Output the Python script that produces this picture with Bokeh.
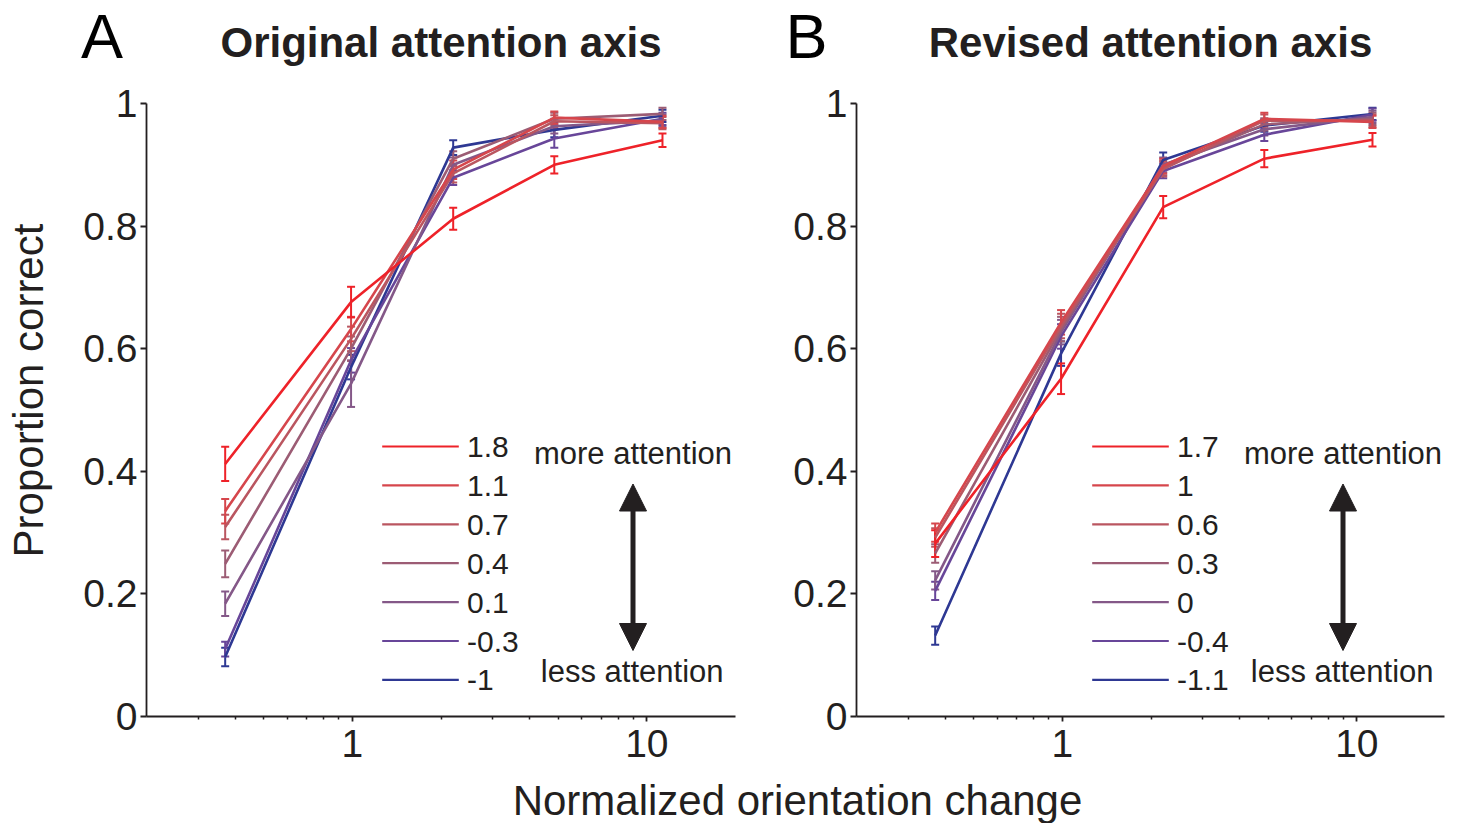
import math
from bokeh.plotting import figure
from bokeh.layouts import row, column
from bokeh.models import (Range1d, FixedTicker, Label, Arrow, NormalHead,
                          Whisker, TeeHead, ColumnDataSource)
from bokeh.embed import file_html
from bokeh.resources import INLINE

# ---------------- data ----------------
x_change = [0.37, 0.99, 2.2, 4.85, 11.3]

# Panel A : original attention axis
labels_a = ["1.8", "1.1", "0.7", "0.4", "0.1", "-0.3", "-1"]
a_18 = [0.412, 0.676, 0.812, 0.900, 0.940]
a_11 = [0.335, 0.632, 0.892, 0.977, 0.970]
a_07 = [0.309, 0.616, 0.886, 0.971, 0.968]
a_04 = [0.249, 0.600, 0.910, 0.975, 0.983]
a_01 = [0.184, 0.543, 0.900, 0.963, 0.972]
a_m03 = [0.110, 0.581, 0.879, 0.943, 0.975]
a_m1 = [0.097, 0.570, 0.928, 0.957, 0.980]
err_a_18 = [0.028, 0.025, 0.018, 0.014, 0.011]
err_a_11 = [0.020, 0.020, 0.015, 0.010, 0.010]
err_a_07 = [0.020, 0.020, 0.015, 0.010, 0.010]
err_a_04 = [0.022, 0.020, 0.012, 0.010, 0.010]
err_a_01 = [0.020, 0.038, 0.012, 0.012, 0.010]
err_a_m03 = [0.012, 0.020, 0.012, 0.015, 0.010]
err_a_m1 = [0.015, 0.020, 0.012, 0.012, 0.010]

# Panel B : revised attention axis
labels_b = ["1.7", "1", "0.6", "0.3", "0", "-0.4", "-1.1"]
b_17 = [0.282, 0.551, 0.831, 0.910, 0.941]
b_1 = [0.300, 0.643, 0.898, 0.975, 0.970]
b_06 = [0.292, 0.637, 0.893, 0.972, 0.972]
b_03 = [0.266, 0.632, 0.895, 0.966, 0.975]
b_0 = [0.222, 0.627, 0.900, 0.958, 0.978]
b_m04 = [0.205, 0.620, 0.890, 0.949, 0.982]
b_m11 = [0.132, 0.592, 0.908, 0.964, 0.983]
err_b_17 = [0.022, 0.025, 0.018, 0.014, 0.011]
err_b_1 = [0.015, 0.020, 0.012, 0.010, 0.010]
err_b_06 = [0.015, 0.020, 0.012, 0.010, 0.010]
err_b_03 = [0.015, 0.020, 0.012, 0.010, 0.010]
err_b_0 = [0.015, 0.020, 0.012, 0.010, 0.010]
err_b_m04 = [0.015, 0.020, 0.012, 0.010, 0.010]
err_b_m11 = [0.015, 0.020, 0.012, 0.010, 0.010]

series_colors = ["#ee2229", "#d6464c", "#ba5660", "#9c5c74", "#845888", "#684699", "#2e3893"]

y_ticks = [0, 0.2, 0.4, 0.6, 0.8, 1]
y_tick_labels = ["0", "0.2", "0.4", "0.6", "0.8", "1"]
x_major = [1, 10]
x_major_labels = ["1", "10"]
x_minor = [0.3, 0.4, 0.5, 0.6, 0.7, 0.8, 0.9, 2, 3, 4, 5, 6, 7, 8, 9]

title_a = "Original attention axis"
title_b = "Revised attention axis"
x_title = "Normalized orientation change"
y_title = "Proportion correct"

INK = "#231f20"
FONT = "Liberation Sans"

# ---------------- page geometry (page pixels) ----------------
TOP_H = 83            # strip with panel letters and titles
PANEL_TOP = TOP_H
FRAME_TOP, FRAME_BOTTOM = 103, 716
PANEL_BOTTOM = 775
BOTTOM_H = 48
YLAB_W = 60
DECADE_A = 589 / 2.0


def strip(width, height):
    """A bare figure whose frame is its whole canvas, in pixel units."""
    s = figure(width=width, height=height, x_range=Range1d(0, width),
               y_range=Range1d(0, height), output_backend="svg",
               toolbar_location=None, title=None,
               x_axis_location=None, y_axis_location=None,
               min_border_left=0, min_border_right=0,
               min_border_top=0, min_border_bottom=0)
    s.outline_line_color = None
    s.xgrid.visible = False
    s.ygrid.visible = False
    return s


def make_panel(series, errs, labels, page_left, width, frame_left, frame_width):
    height = PANEL_BOTTOM - PANEL_TOP
    min_left = frame_left - page_left
    min_right = width - min_left - frame_width
    lx0 = math.log10(0.2)
    x_end = 10 ** (lx0 + frame_width / DECADE_A)
    p = figure(width=width, height=height, x_axis_type="log",
               x_range=Range1d(0.2, x_end), y_range=Range1d(0, 1),
               output_backend="svg", toolbar_location=None, title=None,
               min_border_left=min_left, min_border_right=min_right,
               min_border_top=FRAME_TOP - PANEL_TOP,
               min_border_bottom=PANEL_BOTTOM - FRAME_BOTTOM)
    p.outline_line_color = None
    p.xgrid.visible = False
    p.ygrid.visible = False

    def X(px):
        return 10 ** (lx0 + (px - frame_left) / DECADE_A)

    def Y(py):
        return (FRAME_BOTTOM - py) / (FRAME_BOTTOM - FRAME_TOP)

    xa = p.xaxis[0]
    xa.ticker = FixedTicker(ticks=x_major, minor_ticks=x_minor)
    xa.major_label_overrides = {t: s for t, s in zip(x_major, x_major_labels)}
    ya = p.yaxis[0]
    ya.ticker = FixedTicker(ticks=y_ticks, minor_ticks=[])
    ya.major_label_overrides = {t: s for t, s in zip(y_ticks, y_tick_labels)}
    for ax in (xa, ya):
        ax.axis_line_color = INK
        ax.axis_line_width = 1.8
        ax.major_tick_line_color = INK
        ax.major_tick_line_width = 1.8
        ax.minor_tick_line_color = INK
        ax.minor_tick_line_width = 1.5
        ax.major_tick_in = 0
        ax.minor_tick_in = 0
        ax.major_label_text_font = FONT
        ax.major_label_text_font_size = "39px"
        ax.major_label_text_color = INK
    xa.major_tick_out = 5
    xa.minor_tick_out = 3
    xa.major_label_standoff = 8
    ya.major_tick_out = 6
    ya.minor_tick_out = 0
    ya.major_label_standoff = 3

    # data lines with error bars (blue first so red ends on top)
    for ys, es, col in reversed(list(zip(series, errs, series_colors))):
        p.line(x_change, ys, line_color=col, line_width=2.6)
        src = ColumnDataSource(dict(x=x_change,
                                    upper=[v + e for v, e in zip(ys, es)],
                                    lower=[v - e for v, e in zip(ys, es)]))
        p.add_layout(Whisker(source=src, base="x", upper="upper", lower="lower",
                             dimension="height", line_color=col, line_width=2,
                             upper_head=TeeHead(size=8, line_color=col, line_width=2),
                             lower_head=TeeHead(size=8, line_color=col, line_width=2)))

    # legend drawn by hand
    rel = frame_left - 146
    for i, (lab, col) in enumerate(zip(labels, series_colors)):
        py = 446 + 38.9 * i
        p.segment(x0=[X(381.7 + rel)], x1=[X(458.3 + rel)], y0=[Y(py)], y1=[Y(py)],
                  line_color=col, line_width=2.2)
        p.add_layout(Label(x=X(466.5 + rel), y=Y(py + 0.5), text=lab,
                           text_font=FONT, text_font_size="30px", text_color=INK,
                           text_align="left", text_baseline="middle"))

    p.add_layout(Label(x=X(632.5 + rel), y=Y(452.5), text="more attention",
                       text_font=FONT, text_font_size="31px", text_color=INK,
                       text_align="center", text_baseline="middle"))
    p.add_layout(Label(x=X(631.7 + rel), y=Y(671), text="less attention",
                       text_font=FONT, text_font_size="31px", text_color=INK,
                       text_align="center", text_baseline="middle"))
    ax_px = 632.5 + rel
    p.add_layout(Arrow(x_start=X(ax_px), y_start=Y(650), x_end=X(ax_px), y_end=Y(483.5),
                       line_color=INK, line_width=5,
                       start=NormalHead(size=27, fill_color=INK, line_color=INK, line_width=1),
                       end=NormalHead(size=27, fill_color=INK, line_color=INK, line_width=1)))
    return p


series_a = [a_18, a_11, a_07, a_04, a_01, a_m03, a_m1]
errs_a = [err_a_18, err_a_11, err_a_07, err_a_04, err_a_01, err_a_m03, err_a_m1]
series_b = [b_17, b_1, b_06, b_03, b_0, b_m04, b_m11]
errs_b = [err_b_17, err_b_1, err_b_06, err_b_03, err_b_0, err_b_m04, err_b_m11]

pa = make_panel(series_a, errs_a, labels_a, YLAB_W, 725, 146, 589)
pb = make_panel(series_b, errs_b, labels_b, 785, 676, 856, 588)

# top strip: panel letters and titles (positions are glyph centres, page px)
top = strip(1461, TOP_H)
for txt, cx, cy, size, style in [("A", 101.5, 35, "63px", "normal"),
                                 (title_a, 440.5, 42, "42px", "bold"),
                                 ("B", 806, 35, "63px", "normal"),
                                 (title_b, 1150, 42, "42px", "bold")]:
    top.add_layout(Label(x=cx, y=TOP_H - cy, text=txt, text_font=FONT,
                         text_font_size=size, text_font_style=style,
                         text_color="black" if style == "normal" else INK,
                         text_align="center", text_baseline="middle"))

# left strip: y-axis title
ylab = strip(YLAB_W, PANEL_BOTTOM - PANEL_TOP)
ylab.add_layout(Label(x=28, y=PANEL_BOTTOM - 407, text=y_title, angle=math.pi / 2,
                      text_font=FONT, text_font_size="42px", text_color=INK,
                      text_align="center", text_baseline="middle"))

# bottom strip: shared x-axis title
bottom = strip(1461, BOTTOM_H)
bottom.add_layout(Label(x=797, y=(PANEL_BOTTOM + BOTTOM_H) - 800, text=x_title,
                        text_font=FONT, text_font_size="42px", text_color=INK,
                        text_align="center", text_baseline="middle"))

layout = column(top, row(ylab, pa, pb), bottom)
open("out.html", "w").write(file_html(layout, INLINE))
